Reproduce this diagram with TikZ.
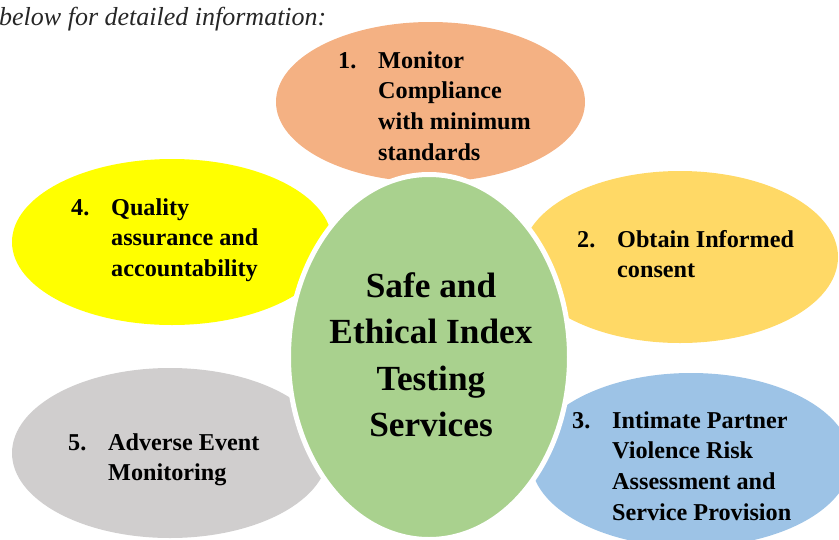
\documentclass[tikz,border=0pt]{standalone}
\usepackage{fontspec}
\setmainfont{Liberation Serif}
\usetikzlibrary{shapes.geometric}
\definecolor{cOrange}{HTML}{F4B183}
\definecolor{cYellow}{HTML}{FFFF00}
\definecolor{cGold}{HTML}{FFD966}
\definecolor{cGreen}{HTML}{A9D18E}
\definecolor{cBlue}{HTML}{9DC3E6}
\definecolor{cGrey}{HTML}{D0CECE}
\tikzset{
  petal/.style={ellipse, draw=none, inner sep=0pt},
  hub/.style={ellipse, fill=cGreen, draw=white, line width=5pt, inner sep=0pt,
    minimum width=281pt, minimum height=365pt},
  itemtxt/.style={inner sep=0pt, anchor=base west,
    font=\bfseries\fontsize{24.2}{30.8}\selectfont},
  hubtxt/.style={inner sep=0pt, anchor=base,
    font=\bfseries\fontsize{35.3}{46.5}\selectfont},
  introtxt/.style={inner sep=0pt, anchor=base west,
    font=\itshape\fontsize{26}{30}\selectfont, text=black!85}
}
\newcommand{\numitem}[2]{\begin{tabular}[t]{@{}p{40pt}@{}l@{}}#1&#2\end{tabular}}
\begin{document}
\begin{tikzpicture}[x=1pt,y=-1pt]
\useasboundingbox (0,0) rectangle (839,539);
\node[introtxt] (intro) at (-1,25) {below for detailed information:};
% petals
\node[petal, fill=cOrange, minimum width=309pt, minimum height=160pt] (e1) at (430.5,102) {};
\node[petal, fill=cYellow, minimum width=320pt, minimum height=166pt] (e4) at (172,242) {};
\node[petal, fill=cGold, minimum width=316pt, minimum height=172pt] (e2) at (680,257) {};
\node[petal, fill=cBlue, minimum width=320pt, minimum height=174pt] (e3) at (691,460) {};
\node[petal, fill=cGrey, minimum width=316pt, minimum height=170pt] (e5) at (170,453) {};
% hub
\node[hub] (ec) at (429,357) {};
% texts
\node[itemtxt] (t1) at (338,68) {\numitem{1.}{Monitor\\&Compliance\\&with minimum\\&standards}};
\node[itemtxt] (t2) at (577,247) {\numitem{2.}{Obtain Informed\\&consent}};
\node[itemtxt] (t3) at (572,428) {\numitem{3.}{Intimate Partner\\&Violence Risk\\&Assessment and\\&Service Provision}};
\node[itemtxt] (t4) at (71,215) {\numitem{4.}{Quality\\&assurance and\\&accountability}};
\node[itemtxt] (t5) at (68,450) {\numitem{5.}{Adverse Event\\&Monitoring}};
\node[hubtxt] (tc) at (431,297) {\begin{tabular}[t]{@{}c@{}}Safe and\\Ethical Index\\Testing\\Services\end{tabular}};
\end{tikzpicture}
\end{document}
